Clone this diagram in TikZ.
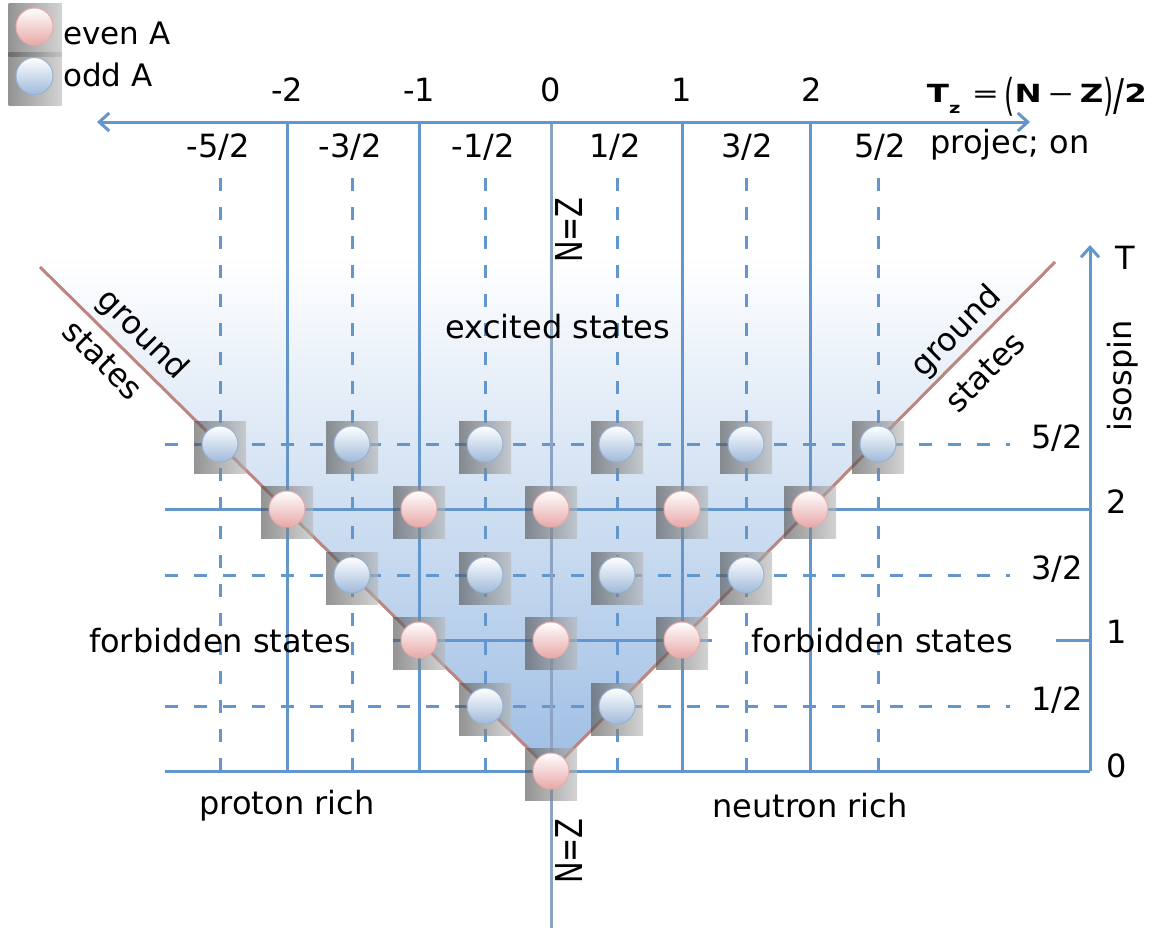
\documentclass[tikz,border=0pt]{standalone}
\usepackage{fontspec}
\setmainfont{DejaVu Sans}
\usetikzlibrary{arrows.meta}
\definecolor{gridblue}{RGB}{98,150,205}
\definecolor{nzline}{RGB}{140,163,195}
\definecolor{brownline}{RGB}{190,132,127}
\definecolor{vblue}{RGB}{158,190,228}
\definecolor{pinkball}{RGB}{232,168,168}
\definecolor{pinkedge}{RGB}{235,170,170}
\definecolor{blueball}{RGB}{160,186,218}
\definecolor{blueedge}{RGB}{150,178,212}
\tikzset{
  lbl/.style={font=\fontsize{32}{36}\selectfont, inner sep=0pt, text=black},
  solidgrid/.style={draw=gridblue, line width=3pt},
  dashgrid/.style={draw=gridblue, line width=3pt, dash pattern=on 13pt off 16pt},
  graysq/.style={minimum width=52pt, minimum height=52pt, inner sep=0pt, left color=black!68, right color=black!28, opacity=0.62},
  evenball/.style={circle, minimum size=36pt, inner sep=0pt, draw=pinkedge, line width=1pt, top color=white, bottom color=pinkball},
  oddball/.style={circle, minimum size=36pt, inner sep=0pt, draw=blueedge, line width=1pt, top color=white, bottom color=blueball},
  barb/.style={-{Straight Barb[length=10pt,width=18pt]}},
}
\begin{document}
\begin{tikzpicture}[x=1pt,y=-1pt]
\useasboundingbox (0,0) rectangle (1170,932);
% key coordinates
\coordinate (apex) at (551,771);
\coordinate (gsL) at (40,267);
\coordinate (gsR) at (1055,262);
% V shading
\shade[top color=white, bottom color=vblue] (apex) -- (1061,256) -- (29,256) -- cycle;
% vertical solid grid
\foreach \x in {287,419,682,810} \draw[solidgrid] (\x,122) -- (\x,771);
% vertical dashed grid
\foreach \x in {220,352,485,617,746,878} \draw[dashgrid] (\x,178) -- (\x,771);
% horizontal grid
\draw[solidgrid] (165,771) -- (1090,771);
\draw[solidgrid] (165,509) -- (1090,509);
\draw[solidgrid] (393,640) -- (712,640);
\draw[solidgrid] (1056,640) -- (1090,640);
\foreach \y in {444,575,706} \draw[dashgrid] (165,\y) -- (1010,\y);
% N=Z line
\draw[nzline, line width=3pt] (551,122) -- (551,928);
% axes
\coordinate (axL) at (97,122);
\coordinate (axR) at (1030,122);
\coordinate (tBot) at (1090,771);
\coordinate (tTop) at (1090,245);
\draw[gridblue, line width=3pt, {Straight Barb[length=10pt,width=18pt]}-{Straight Barb[length=10pt,width=18pt]}] (axL) -- (axR);
\draw[gridblue, line width=3pt, barb] (tBot) -- (tTop);
% ground state lines
\draw[brownline, line width=3pt] (gsL) -- (apex) -- (gsR);
% odd-A states
\foreach \n/\x/\y in {a/220/444, b/352/444, c/485/444, d/617/444, e/746/444, f/878/444, g/352/575, h/485/575, i/617/575, j/746/575, k/485/706, l/617/706}{
  \node[graysq] (sq\n) at (\x,\y+3.5) {};
  \node[oddball] (ball\n) at (\x,\y) {};
}
% even-A states
\foreach \n/\x/\y in {m/287/509, n/419/509, o/551/509, p/682/509, q/810/509, r/419/640, s/551/640, t/682/640, u/551/771}{
  \node[graysq] (sq\n) at (\x,\y+3.5) {};
  \node[evenball] (ball\n) at (\x,\y) {};
}
% legend
\node[graysq, minimum height=53pt, minimum width=53pt] (legsq1) at (35,29.5) {};
\node[graysq, minimum height=53pt, minimum width=53pt] (legsq2) at (35,78.5) {};
\node[evenball, minimum size=37pt] (legeven) at (34.5,26.5) {};
\node[oddball, minimum size=37pt] (legodd) at (34.5,76) {};
\node[lbl, anchor=west, font=\fontsize{31}{34}\selectfont] (eventxt) at (63,33) {even A};
\node[lbl, anchor=west, font=\fontsize{31}{34}\selectfont] (oddtxt) at (63,75) {odd A};
% Tz labels
\foreach \n/\x/\t in {m2/287/-2, m1/419/-1, z0/551/0, p1/682/1, p2/812/2}
  \node[lbl] (tz\n) at (\x,90) {\t};
\foreach \n/\x/\t in {m5/218/-5\slash 2, m3/350/-3\slash 2, m1h/483/-1\slash 2, p1h/615/1\slash 2, p3/747/3\slash 2, p5/880/5\slash 2}
  \node[lbl] (tzh\n) at (\x,147) {\t};
\node[lbl, font=\fontsize{25}{28}\selectfont, anchor=base] (formula) at (1037,102)
  {\scalebox{1.3}[1]{\bfseries T\raisebox{-0.45em}{\fontsize{15}{15}\selectfont z}\ \mdseries=\,\raisebox{-0.35em}{\scalebox{0.8}[1.75]{(}}\bfseries N\,\mdseries−\,\bfseries Z\mdseries\raisebox{-0.35em}{\scalebox{0.8}[1.75]{)}}\raisebox{-0.35em}{\scalebox{1}[1.75]{/}}\bfseries 2}};
\node[lbl] (proj) at (1010,145) {projec; on};
% T labels
\node[lbl] (Tlbl) at (1125,258) {T};
\node[lbl, rotate=90] (isospin) at (1123,376) {isospin};
\node[lbl] (t52) at (1057,438) {5/2};
\node[lbl] (t2) at (1117,502) {2};
\node[lbl] (t32) at (1057,569) {3/2};
\node[lbl] (t1) at (1117,632) {1};
\node[lbl] (t12) at (1057,700) {1/2};
\node[lbl] (t0) at (1117,766) {0};
% region labels
\node[lbl] (excited) at (558,327) {excited states};
\node[lbl] (forbL) at (220,641) {forbidden states};
\node[lbl] (forbR) at (882,641) {forbidden states};
\node[lbl] (proton) at (287,806) {proton rich};
\node[lbl] (neutron) at (810,806) {neutron rich};
\node[lbl, rotate=90] (nztop) at (569,230) {\scalebox{0.78}[1]{\fontsize{37}{37}\selectfont N=Z}};
\node[lbl, rotate=90] (nzbot) at (569,851) {\scalebox{0.78}[1]{\fontsize{37}{37}\selectfont N=Z}};
\node[lbl, rotate=-45] (groundL) at (142,335) {ground};
\node[lbl, rotate=-45] (statesL) at (103,360) {states};
\node[lbl, rotate=45] (groundR) at (957,332) {ground};
\node[lbl, rotate=45] (statesR) at (985,372) {states};
\end{tikzpicture}
\end{document}
